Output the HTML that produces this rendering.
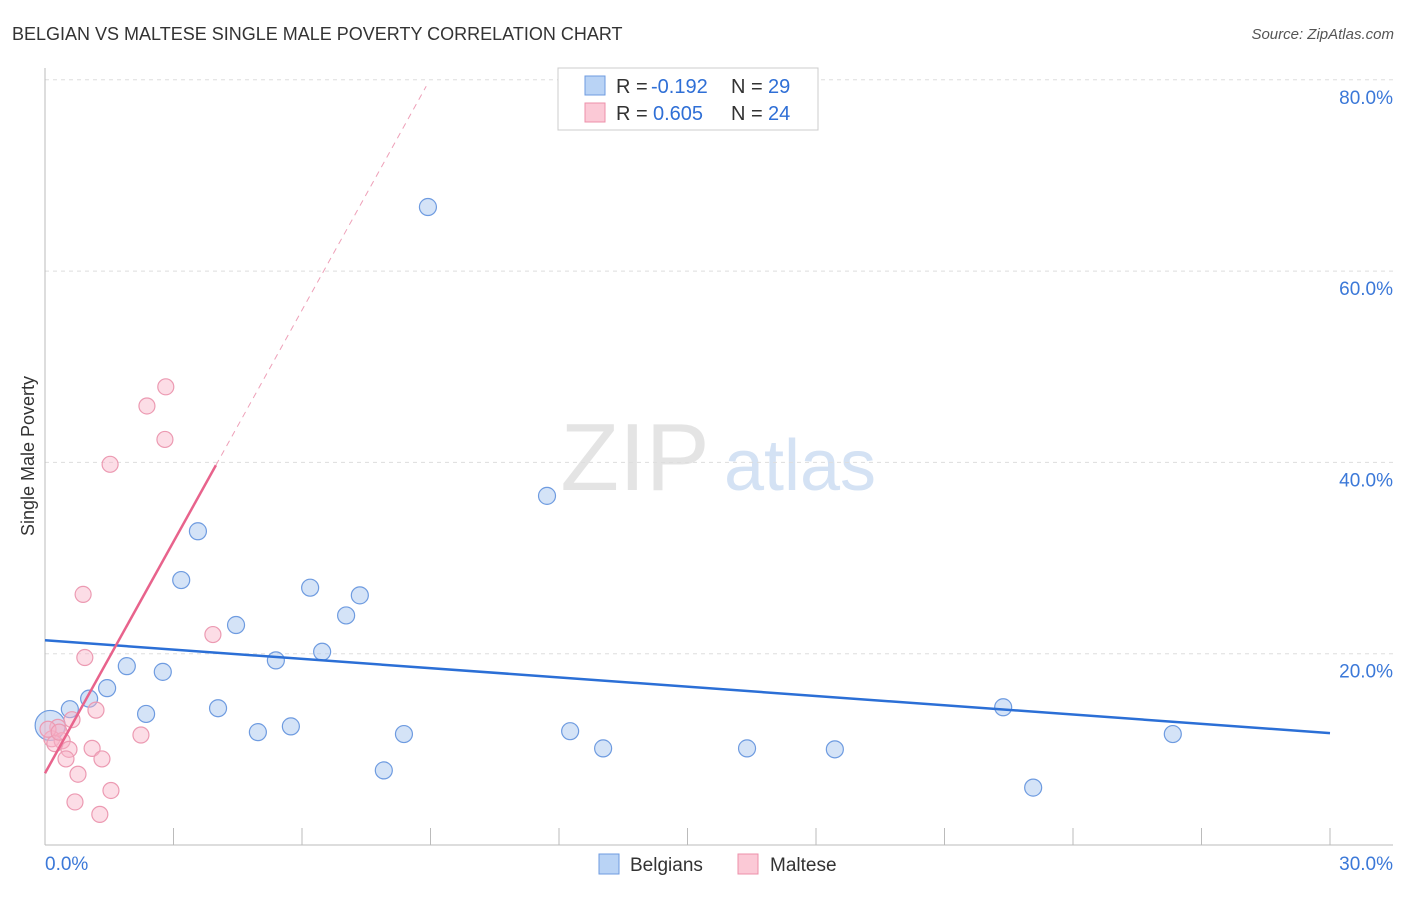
<!DOCTYPE html>
<html><head><meta charset="utf-8"><style>
body{margin:0;background:#fff;font-family:"Liberation Sans",sans-serif;}
svg text{font-family:"Liberation Sans",sans-serif;}
</style></head><body>
<svg width="1406" height="892" id="chart">
<text x="12" y="40" font-size="18" fill="#333">BELGIAN VS MALTESE SINGLE MALE POVERTY CORRELATION CHART</text>
<text x="1394" y="39" font-size="15" fill="#555" font-style="italic" text-anchor="end">Source: ZipAtlas.com</text>
<text x="635" y="490" font-size="96" fill="#e4e4e4" font-family="Liberation Serif" text-anchor="middle">ZIP</text>
<text x="800" y="490" font-size="72" fill="#d4e2f4" text-anchor="middle">atlas</text>
<text transform="translate(34,456) rotate(-90)" font-size="18" fill="#333" text-anchor="middle">Single Male Poverty</text>
<g id="grid"></g><g id="marks"></g>
<g>
<rect x="558" y="68" width="260" height="62" fill="#fff" stroke="#ccc"/>
<rect x="585" y="76" width="20" height="19" fill="#b9d3f5" stroke="#6e9be0"/>
<rect x="585" y="103" width="20" height="19" fill="#fbc9d6" stroke="#ec90aa"/>
<text x="616" y="93" font-size="20" fill="#333">R =</text>
<text x="651" y="93" font-size="20" fill="#2f6fd6">-0.192</text>
<text x="731" y="93" font-size="20" fill="#333">N =</text>
<text x="768" y="93" font-size="20" fill="#2f6fd6">29</text>
<text x="616" y="120" font-size="20" fill="#333">R =</text>
<text x="653" y="120" font-size="20" fill="#2f6fd6">0.605</text>
<text x="731" y="120" font-size="20" fill="#333">N =</text>
<text x="768" y="120" font-size="20" fill="#2f6fd6">24</text>
</g>
<g>
<rect x="599" y="854" width="20" height="20" fill="#b9d3f5" stroke="#6e9be0"/>
<text x="630" y="871" font-size="19" fill="#333">Belgians</text>
<rect x="738" y="854" width="20" height="20" fill="#fbc9d6" stroke="#ec90aa"/>
<text x="770" y="871" font-size="19" fill="#333">Maltese</text>
</g>
</svg>
<script>
const yTicks=[20,40,60,80];
const yTickLabels=["20.0%","40.0%","60.0%","80.0%"];
const xTickVals=[3,6,9,12,15,18,21,24,27,30];
const belgX=[8.94,11.72,3.57,3.18,6.19,7.35,7.03,4.46,6.47,5.39,1.91,2.75,1.45,1.03,0.58,4.04,2.36,5.74,4.97,8.38,12.26,13.03,16.39,18.44,22.37,26.33,7.91,23.07,0.12];
const belgY=[66.7,36.5,32.8,27.7,26.9,26.1,24.0,23.0,20.2,19.3,18.7,18.1,16.4,15.3,14.2,14.3,13.7,12.4,11.8,11.6,11.9,10.1,10.1,10.0,14.4,11.6,7.8,6.0,12.5];
const maltX=[2.82,2.38,2.80,1.52,0.89,3.92,0.93,1.19,0.63,0.30,0.16,0.40,0.23,2.24,0.56,1.10,0.49,1.33,0.77,1.54,0.70,1.28,0.07,0.33];
const maltY=[47.9,45.9,42.4,39.8,26.2,22.0,19.6,14.1,13.1,12.3,11.1,10.9,10.6,11.5,10.0,10.1,9.0,9.0,7.4,5.7,4.5,3.2,12.1,11.8];
const belgTrend=[21.4,11.7];
const maltTrend=[7.5,8.07];
const X=v=>45+v/30*1285, Y=v=>845-v/20*191.3;
const NS="http://www.w3.org/2000/svg";
function mk(t,a,p){const e=document.createElementNS(NS,t);for(const k in a)e.setAttribute(k,a[k]);p.appendChild(e);return e;}
const g=document.getElementById('grid'),m=document.getElementById('marks');
yTicks.forEach((v,i)=>{
 const l=mk('line',{x1:45,x2:1393,y1:Y(v),y2:Y(v),stroke:'#ddd','stroke-dasharray':'4,4'},g);
 
 
 const t=mk('text',{x:1393,y:Y(v)+24,'font-size':19,fill:'#3b78d8','text-anchor':'end'},g);
 t.textContent=yTickLabels[i];
 
 
});
const ax=mk('line',{x1:45,x2:45,y1:68,y2:845,stroke:'#bbb'},g);


const bx=mk('line',{x1:45,x2:1393,y1:845,y2:845,stroke:'#bbb'},g);


xTickVals.forEach(v=>{const t=mk('line',{x1:X(v),x2:X(v),y1:828,y2:845,stroke:'#bbb'},g);
 
 });
const xl0=mk('text',{x:45,y:870,'font-size':19,fill:'#3b78d8'},g);xl0.textContent="0.0%";


const xl1=mk('text',{x:1393,y:870,'font-size':19,fill:'#3b78d8','text-anchor':'end'},g);xl1.textContent="30.0%";


belgX.forEach((x,i)=>{const c=mk('circle',{cx:X(x),cy:Y(belgY[i]),r:i==belgX.length-1?15:8.5,fill:'rgba(170,200,240,0.5)',stroke:'#6e9be0','stroke-width':1.2},m);
 
 });
maltX.forEach((x,i)=>{const c=mk('circle',{cx:X(x),cy:Y(maltY[i]),r:8,fill:'rgba(248,180,200,0.45)',stroke:'#ec9ab2','stroke-width':1.2},m);
 
 });
const bt=mk('line',{x1:X(0),y1:Y(belgTrend[0]),x2:X(30),y2:Y(belgTrend[1]),stroke:'#2b6fd6','stroke-width':2.5},m);


const mt=mk('line',{x1:X(0),y1:Y(maltTrend[0]),x2:X(3.99),y2:Y(maltTrend[0]+maltTrend[1]*3.99),stroke:'#e8638c','stroke-width':2.5},m);


const md=mk('line',{x1:X(3.99),y1:Y(maltTrend[0]+maltTrend[1]*3.99),x2:X(8.9),y2:Y(maltTrend[0]+maltTrend[1]*8.9),stroke:'#eea0b8','stroke-width':1,'stroke-dasharray':'6,5'},m);


</script>
</body></html>
